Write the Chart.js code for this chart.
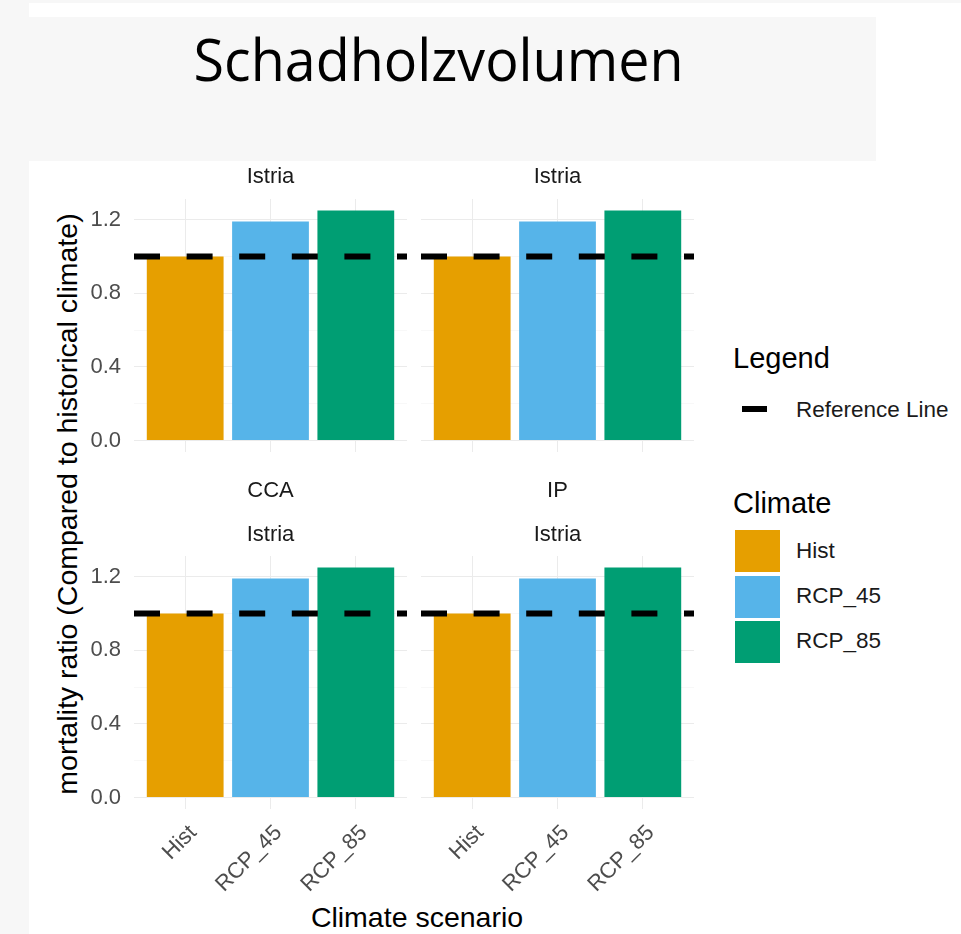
<!DOCTYPE html>
<html>
<head>
<meta charset="utf-8">
<script src="https://cdn.jsdelivr.net/npm/chart.js@4.4.1/dist/chart.umd.min.js"></script>
<style>
html,body{margin:0;padding:0;}
body{width:961px;height:934px;background:#f7f7f7;position:relative;overflow:hidden;font-family:'Liberation Sans',Arial,sans-serif;}
#sheet{position:absolute;left:29px;top:3px;width:932px;height:931px;background:#ffffff;}
#titlebox{position:absolute;left:29px;top:17px;width:847px;height:144px;background:#f7f7f7;}
#title{position:absolute;top:30px;font-family:'Open Sans',sans-serif;font-size:58px;line-height:58px;white-space:nowrap;color:#000;transform-origin:50% 50%;}
canvas{position:absolute;}
.lbl{position:absolute;white-space:nowrap;color:#000;}
.sw{position:absolute;width:45px;height:42px;}
</style>
</head>
<body>
<div id="sheet"></div>
<div id="titlebox"></div>
<span id="title">Schadholzvolumen</span>
<div id="ytitle" class="lbl" style="left:67px;top:504px;font-size:28.5px;line-height:28.5px;transform:translate(-50%,-50%) rotate(-90deg);">mortality ratio (Compared to historical climate)</div>
<div id="xtitle" class="lbl" style="left:417px;top:917px;font-size:28.5px;line-height:28.5px;transform:translate(-50%,-50%);">Climate scenario</div>
<div id="legend"></div>
<script>
// ---- data ----
const chartTitle = 'Schadholzvolumen';
const categories = ['Hist', 'RCP_45', 'RCP_85'];
const stripRegion = ['Istria', 'Istria', 'Istria', 'Istria'];
const stripGroup = ['', '', 'CCA', 'IP'];
const valuesTopLeft = [1.0, 1.19, 1.25];
const valuesTopRight = [1.0, 1.19, 1.25];
const valuesBottomLeft = [1.0, 1.19, 1.25];
const valuesBottomRight = [1.0, 1.19, 1.25];
const referenceValue = [1.0];
const yTicks = [0, 0.4, 0.8, 1.2];
const yTickLabels = ['0.0', '0.4', '0.8', '1.2'];
const yMinorTicks = [0.2, 0.6, 1.0];
const barColors = ['#E69F00', '#56B4E9', '#009E73'];
const legendTitle = 'Legend';
const referenceLabel = 'Reference Line';
const climateTitle = 'Climate';

// ---- title fit ----
(function(){
  const t = document.getElementById('title');
  t.textContent = chartTitle;
  const w = t.getBoundingClientRect().width;
  const target = 490;
  t.style.left = (438.5 - w/2) + 'px';
  t.style.transform = 'scaleX(' + (target / w) + ')';
})();

// ---- legend ----
(function(){
  const lg = document.getElementById('legend');
  function lbl(text, left, cy, size){
    const d = document.createElement('div');
    d.className = 'lbl';
    d.textContent = text;
    d.style.left = left + 'px';
    d.style.top = (cy - size/2) + 'px';
    d.style.fontSize = size + 'px';
    d.style.lineHeight = size + 'px';
    lg.appendChild(d);
    return d;
  }
  lbl(legendTitle, 733, 358, 29);
  const key = document.createElement('div');
  key.style.cssText = 'position:absolute;left:742px;top:406px;width:25px;height:6px;background:#000;';
  lg.appendChild(key);
  lbl(referenceLabel, 796, 410, 22.5).style.color = '#1a1a1a';
  lbl(climateTitle, 733, 503, 29);
  const tops = [530, 575.5, 620.5];
  categories.forEach((c, i) => {
    const s = document.createElement('div');
    s.className = 'sw';
    s.style.left = '735px';
    s.style.top = tops[i] + 'px';
    s.style.background = barColors[i];
    lg.appendChild(s);
    lbl(c, 796, tops[i] + 21, 22.5).style.color = '#1a1a1a';
  });
})();

// ---- panels ----
Chart.defaults.font.family = "'Liberation Sans', Arial, sans-serif";

const panels = [
  {x:74,  y:155, w:333, h:297, showY:true,  showX:false, values:valuesTopLeft,     k:0},
  {x:421, y:155, w:273, h:297, showY:false, showX:false, values:valuesTopRight,    k:1},
  {x:74,  y:460, w:333, h:439, showY:true,  showX:true,  values:valuesBottomLeft,  k:2},
  {x:421, y:460, w:273, h:439, showY:false, showX:true,  values:valuesBottomRight, k:3}
];

panels.forEach(p => {
  const canvas = document.createElement('canvas');
  canvas.width = p.w; canvas.height = p.h;
  canvas.style.left = p.x + 'px'; canvas.style.top = p.y + 'px';
  canvas.style.width = p.w + 'px'; canvas.style.height = p.h + 'px';
  document.body.appendChild(canvas);

  const hasGroup = stripGroup[p.k] !== '';
  const titleOpts = hasGroup
    ? {display:true, fullSize:false, text:stripGroup[p.k], color:'#1a1a1a', font:{size:22, weight:'normal'}, padding:{top:18, bottom:17.6}}
    : {display:true, fullSize:false, text:stripRegion[p.k], color:'#1a1a1a', font:{size:22, weight:'normal'}, padding:{top:9, bottom:8.6}};
  const subtitleOpts = hasGroup
    ? {display:true, fullSize:false, text:stripRegion[p.k], color:'#1a1a1a', font:{size:22, weight:'normal'}, padding:{top:0, bottom:7.6}}
    : {display:false};

  new Chart(canvas, {
    type: 'bar',
    data: {
      datasets: [
        {
          type: 'line',
          order: 0,
          data: [{x:0.4, y:referenceValue[0]}, {x:3.6, y:referenceValue[0]}],
          borderColor: '#000000',
          borderWidth: 6,
          borderDash: [26, 26.6],
          borderCapStyle: 'butt',
          pointRadius: 0,
          fill: false,
          tension: 0
        },
        {
          type: 'bar',
          order: 1,
          data: categories.map((c, i) => ({x: i + 1, y: p.values[i]})),
          backgroundColor: barColors,
          borderWidth: 0,
          categoryPercentage: 1,
          barPercentage: 0.9
        }
      ]
    },
    options: {
      responsive: false,
      animation: false,
      devicePixelRatio: 1,
      layout: {padding: 0},
      plugins: {
        legend: {display: false},
        tooltip: {enabled: false},
        title: titleOpts,
        subtitle: subtitleOpts
      },
      scales: {
        x: {
          type: 'linear',
          min: 0.4,
          max: 3.6,
          offset: false,
          grid: {offset: false, color: '#ebebeb', lineWidth: 1, drawTicks: false},
          border: {display: false},
          afterBuildTicks: s => { s.ticks = categories.map((c, i) => ({value: i + 1})); },
          ticks: {
            display: p.showX,
            autoSkip: false,
            minRotation: 45,
            maxRotation: 45,
            padding: 11,
            labelOffset: 8,
            color: '#4d4d4d',
            font: {size: 22},
            callback: v => categories[Math.round(v) - 1]
          },
          afterFit: s => { s.height = p.showX ? 90 : 0; s.paddingLeft = 0; s.paddingRight = 0; }
        },
        y: {
          type: 'linear',
          min: -0.0625,
          max: 1.3125,
          grid: {
            color: ctx => (ctx.tick && yMinorTicks.includes(ctx.tick.value)) ? '#f4f4f4' : '#ebebeb',
            lineWidth: ctx => (ctx.tick && yMinorTicks.includes(ctx.tick.value)) ? 0.6 : 1,
            drawTicks: false
          },
          border: {display: false},
          afterBuildTicks: s => { s.ticks = yTicks.concat(yMinorTicks).sort((a, b) => a - b).map(v => ({value: v})); },
          ticks: {
            display: p.showY,
            padding: 13,
            color: '#4d4d4d',
            font: {size: 22},
            callback: v => { const i = yTicks.indexOf(v); return i >= 0 ? yTickLabels[i] : ''; }
          },
          afterFit: s => { s.width = p.showY ? 60 : 0; s.paddingTop = 0; s.paddingBottom = 0; }
        }
      }
    }
  });
});
</script>
</body>
</html>
